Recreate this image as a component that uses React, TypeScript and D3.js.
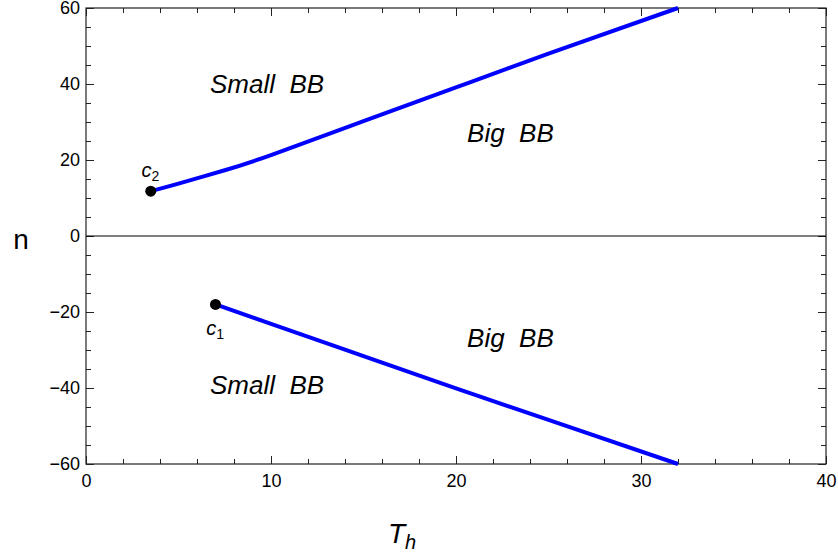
import React, { useRef, useEffect } from 'react';
import * as d3 from 'd3';

// upper branch (starts at c2)
const upperT = [3.5, 5, 7.5, 10, 15, 20, 25, 32];
const upperN = [11.8, 13.8, 17.3, 21.3, 30.2, 39.1, 48.0, 60];

// lower branch (starts at c1)
const lowerT = [7, 10, 15, 20, 25, 32];
const lowerN = [-18, -23.1, -31.6, -40.1, -48.4, -60];

// critical points
const pointNames = ['2', '1'];
const pointT = [3.5, 7];
const pointN = [11.8, -18];
const pointLabelT = [3.0, 6.5];
const pointLabelN = [15.5, -26];

// region labels
const regionText = ['Small  BB', 'Big  BB', 'Big  BB', 'Small  BB'];
const regionT = [6.7, 20.6, 20.6, 6.7];
const regionN = [37.6, 24.7, -29.2, -41.6];

const xMajor = [0, 10, 20, 30, 40];
const xMinor = d3.range(0, 41, 2);
const yMajor = [-60, -40, -20, 0, 20, 40, 60];
const yMinor = d3.range(-60, 61, 5);

const W = 838;
const H = 554;

const App = () => {
  const ref = useRef<SVGSVGElement>(null);

  useEffect(() => {
    const svg = d3.select(ref.current);
    svg.selectAll('*').remove();

    const margin = { top: 8, right: 12, bottom: 90, left: 86 };
    const width = W - margin.left - margin.right;
    const height = H - margin.top - margin.bottom;

    const x = d3.scaleLinear().domain([0, 40]).range([0, width]);
    const y = d3.scaleLinear().domain([-60, 60]).range([height, 0]);

    const g = svg.append('g').attr('transform', `translate(${margin.left},${margin.top})`);
    const frameColor = '#222';
    const font = '"Liberation Sans", Arial, sans-serif';

    const addAxis = (axis: any, transform: string) => {
      const a = g.append('g').attr('transform', transform).call(axis);
      a.select('.domain').remove();
      a.selectAll('line').attr('stroke', frameColor);
      a.selectAll('text')
        .attr('fill', '#000')
        .style('font-family', font)
        .style('font-size', '18px');
      return a;
    };

    // ticks point inward on all four sides; labels only on bottom and left
    addAxis(d3.axisBottom(x).tickValues(xMinor).tickSizeInner(-5).tickSizeOuter(0).tickFormat(() => ''), `translate(0,${height})`);
    addAxis(d3.axisBottom(x).tickValues(xMajor).tickSizeInner(-8).tickSizeOuter(0).tickPadding(10).tickFormat(d3.format('d')), `translate(0,${height})`);
    addAxis(d3.axisTop(x).tickValues(xMinor).tickSizeInner(-5).tickSizeOuter(0).tickFormat(() => ''), 'translate(0,0)');
    addAxis(d3.axisTop(x).tickValues(xMajor).tickSizeInner(-8).tickSizeOuter(0).tickFormat(() => ''), 'translate(0,0)');
    addAxis(d3.axisLeft(y).tickValues(yMinor).tickSizeInner(-5).tickSizeOuter(0).tickFormat(() => ''), 'translate(0,0)');
    addAxis(d3.axisLeft(y).tickValues(yMajor).tickSizeInner(-8).tickSizeOuter(0).tickPadding(6).tickFormat(d3.format('d')), 'translate(0,0)');
    addAxis(d3.axisRight(y).tickValues(yMinor).tickSizeInner(-5).tickSizeOuter(0).tickFormat(() => ''), `translate(${width},0)`);
    addAxis(d3.axisRight(y).tickValues(yMajor).tickSizeInner(-8).tickSizeOuter(0).tickFormat(() => ''), `translate(${width},0)`);

    g.append('rect')
      .attr('width', width)
      .attr('height', height)
      .attr('fill', 'none')
      .attr('stroke', frameColor)
      .attr('stroke-width', 1.2);

    // n = 0 line
    g.append('line')
      .attr('x1', 0)
      .attr('x2', width)
      .attr('y1', y(0))
      .attr('y2', y(0))
      .attr('stroke', '#000')
      .attr('stroke-width', 1.2);

    const branches = [
      { t: upperT, n: upperN },
      { t: lowerT, n: lowerN },
    ];
    branches.forEach((b) => {
      const line = d3.line<number>()
        .x((d) => x(d))
        .y((_, i) => y(b.n[i]))
        .curve(d3.curveNatural);
      g.append('path')
        .attr('fill', 'none')
        .attr('stroke', '#0000ff')
        .attr('stroke-width', 4)
        .attr('d', line(b.t));
    });

    pointT.forEach((t, i) => {
      g.append('circle')
        .attr('cx', x(t))
        .attr('cy', y(pointN[i]))
        .attr('r', 5.5)
        .attr('fill', '#000');

      const lbl = g.append('text')
        .attr('x', x(pointLabelT[i]))
        .attr('y', y(pointLabelN[i]))
        .style('font-family', font)
        .style('font-size', '20px');
      lbl.append('tspan').style('font-style', 'italic').text('c');
      lbl.append('tspan').attr('dy', 4).style('font-size', '14px').text(pointNames[i]);
    });

    regionText.forEach((s, i) => {
      g.append('text')
        .attr('x', x(regionT[i]))
        .attr('y', y(regionN[i]))
        .attr('xml:space', 'preserve')
        .style('white-space', 'pre')
        .style('font-family', font)
        .style('font-style', 'italic')
        .style('font-size', '26px')
        .text(s);
    });

    // axis labels
    svg.append('text')
      .attr('x', 21)
      .attr('y', margin.top + y(0) + 13)
      .attr('text-anchor', 'middle')
      .style('font-family', font)
      .style('font-size', '28px')
      .text('n');

    const tl = svg.append('text')
      .attr('x', 388)
      .attr('y', H - 11)
      .style('font-family', font)
      .style('font-size', '28px');
    tl.append('tspan').style('font-style', 'italic').text('T');
    tl.append('tspan').attr('dy', 6).style('font-style', 'italic').style('font-size', '20px').text('h');
  }, []);

  return (
    <svg
      ref={ref}
      width={W}
      height={H}
      style={{ position: 'absolute', left: 0, top: 0, display: 'block', background: '#fff' }}
    />
  );
};

export default App;
